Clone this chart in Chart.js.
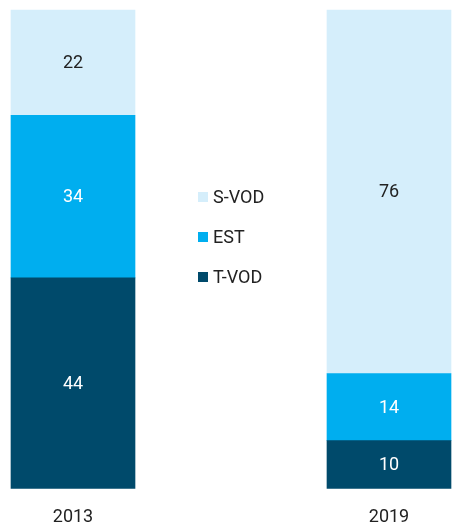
<!DOCTYPE html>
<html>
<head>
<meta charset="utf-8">
<script src="https://cdn.jsdelivr.net/npm/chart.js@4/dist/chart.umd.min.js"></script>
<style>
  html, body { margin: 0; padding: 0; background: #fff; }
  #wrap { width: 452px; height: 527px; }
</style>
</head>
<body>
<div id="wrap"><canvas id="myChart"></canvas></div>
<script>
const years = ["2013", "2019"];
const tvod = [44, 10];
const est = [34, 14];
const svod = [22, 76];

const labelColors = ["#ffffff", "#ffffff", "#222222"];

// value labels in the middle of each segment
const segmentLabels = {
  id: "segmentLabels",
  afterDatasetsDraw(chart) {
    const ctx = chart.ctx;
    ctx.save();
    ctx.font = "18px Roboto";
    ctx.textAlign = "center";
    ctx.textBaseline = "middle";
    chart.data.datasets.forEach((ds, i) => {
      chart.getDatasetMeta(i).data.forEach((bar, j) => {
        ctx.fillStyle = labelColors[i];
        ctx.fillText(ds.data[j], bar.x, (bar.y + bar.base) / 2 + 1);
      });
    });
    ctx.restore();
  }
};

// legend drawn in the gap between the two bars, S-VOD on top
const middleLegend = {
  id: "middleLegend",
  afterDraw(chart) {
    const ctx = chart.ctx;
    ctx.save();
    ctx.font = "18px Roboto";
    ctx.textBaseline = "middle";
    const n = chart.data.datasets.length;
    for (let k = 0; k < n; k++) {
      const ds = chart.data.datasets[n - 1 - k];
      const y = 197 + k * 40;
      ctx.fillStyle = ds.backgroundColor;
      ctx.fillRect(198, y - 5, 10, 10);
      ctx.fillStyle = "#222222";
      ctx.fillText(ds.label, 213, y + 1);
    }
    ctx.restore();
  }
};

const ctx = document.getElementById("myChart").getContext("2d");
const chart = new Chart(ctx, {
  type: "bar",
  data: {
    labels: years,
    datasets: [
      { label: "T-VOD", data: tvod, backgroundColor: "#004a6b" },
      { label: "EST", data: est, backgroundColor: "#00aeef" },
      { label: "S-VOD", data: svod, backgroundColor: "#d5eefb" }
    ]
  },
  options: {
    responsive: true,
    maintainAspectRatio: false,
    animation: false,
    layout: { padding: { top: 10, left: 73, right: 63, bottom: -19 } },
    datasets: { bar: { barThickness: 124, clip: false } },
    plugins: { legend: { display: false }, tooltip: { enabled: false } },
    scales: {
      x: {
        stacked: true,
        offset: false,
        grid: { display: false, drawTicks: false },
        border: { display: false },
        ticks: { color: "#222222", font: { family: "Roboto", size: 18 }, padding: 18, maxRotation: 0 }
      },
      y: {
        stacked: true,
        display: false,
        min: 0,
        max: 100
      }
    }
  },
  plugins: [segmentLabels, middleLegend]
});
</script>
</body>
</html>
